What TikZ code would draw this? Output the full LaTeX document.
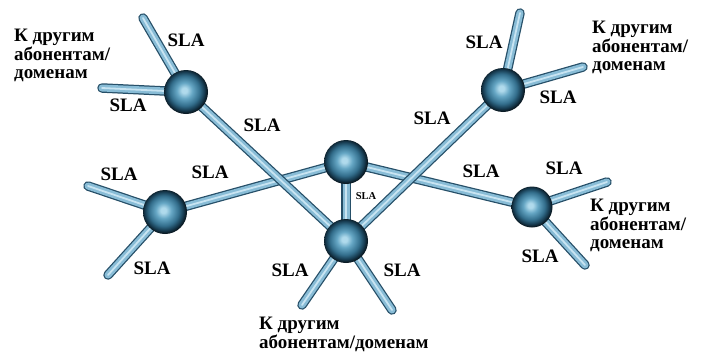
\documentclass[tikz,border=0pt]{standalone}
\usepackage{fontspec}
\setmainfont{Liberation Serif}[BoldFont={Liberation Serif Bold}]
\newfontfamily\labfont{Liberation Serif Bold}
\pgfdeclarelayer{bg}
\pgfsetlayers{bg,main}
\definecolor{pipefill}{HTML}{88BCD6}
\definecolor{pipedark}{HTML}{264F68}
\definecolor{pipelight}{HTML}{C8E4F2}
\definecolor{sphhi}{HTML}{B0DAEC}
\definecolor{sphmid}{HTML}{65A6C4}
\definecolor{sphmd}{HTML}{336E8C}
\definecolor{sphdk}{HTML}{163A4F}
\definecolor{sphedge}{HTML}{0A1922}
\pgfdeclareradialshading{sph}{\pgfpoint{-2bp}{2bp}}{color(0bp)=(sphhi); color(3bp)=(sphhi); color(9bp)=(sphmid); color(17bp)=(sphmd); color(22bp)=(sphdk); color(25bp)=(sphedge); color(50bp)=(sphedge)}
\begin{document}
\begin{tikzpicture}[x=1pt,y=-1pt,
  sphere/.style={circle, minimum size=44pt, inner sep=0pt, shading=sph},
  pipe/.style={line width=7pt, draw=pipefill, line cap=round,
    preaction={draw=pipedark, line width=9.5pt, line cap=round},
    postaction={draw=pipelight, line width=1.8pt, line cap=round}},
  lbl/.style={font=\labfont\fontsize{19}{18.5}\selectfont, inner sep=0pt},
  small/.style={font=\labfont\fontsize{10.5}{12}\selectfont, inner sep=0pt},
  blk/.style={lbl, align=left, anchor=north west}]
\useasboundingbox (0,0) rectangle (701,351);
% spheres
\node[sphere] (tl) at (186,92) {};
\node[sphere] (tr) at (503,90) {};
\node[sphere] (ct) at (346,162) {};
\node[sphere] (lf) at (165,212) {};
\node[sphere] (cb) at (346,241) {};
\node[sphere, minimum size=41pt] (rt) at (532,207) {};
% stub ends
\coordinate (tlU) at (143,18);
\coordinate (tlL) at (102,88);
\coordinate (trU) at (520,13);
\coordinate (trR) at (583,67);
\coordinate (lfL) at (88,186);
\coordinate (lfD) at (108,275);
\coordinate (cbL) at (302,305);
\coordinate (cbR) at (392,310);
\coordinate (rtU) at (607,182);
\coordinate (rtD) at (585,265);
\begin{pgfonlayer}{bg}
  \draw[pipe] (lf.center) -- (ct.center);
  \draw[pipe] (ct.center) -- (rt.center);
  \draw[pipe] (ct.center) -- (cb.center);
  \draw[pipe] (tl.center) -- (cb.center);
  \draw[pipe] (tr.center) -- (cb.center);
  \draw[pipe] (tl.center) -- (tlU);
  \draw[pipe] (tl.center) -- (tlL);
  \draw[pipe] (tr.center) -- (trU);
  \draw[pipe] (tr.center) -- (trR);
  \draw[pipe] (lf.center) -- (lfL);
  \draw[pipe] (lf.center) -- (lfD);
  \draw[pipe] (cb.center) -- (cbL);
  \draw[pipe] (cb.center) -- (cbR);
  \draw[pipe] (rt.center) -- (rtU);
  \draw[pipe] (rt.center) -- (rtD);
\end{pgfonlayer}
% SLA labels
\node[lbl] (s1) at (186,40) {SLA};
\node[lbl] (s2) at (128,105) {SLA};
\node[lbl] (s3) at (262,125) {SLA};
\node[lbl] (s4) at (484,42) {SLA};
\node[lbl] (s5) at (558,97) {SLA};
\node[lbl] (s6) at (432,118) {SLA};
\node[lbl] (s7) at (119,174) {SLA};
\node[lbl] (s8) at (210,172) {SLA};
\node[lbl] (s9) at (152,268) {SLA};
\node[lbl] (s10) at (290,270) {SLA};
\node[lbl] (s11) at (402,270) {SLA};
\node[lbl] (s12) at (481,171) {SLA};
\node[lbl] (s13) at (564,168) {SLA};
\node[lbl] (s14) at (540,256) {SLA};
\node[small] (s15) at (366,196) {SLA};
% text blocks
\node[blk] (b1) at (14,29) {К другим\\абонентам/\\доменам};
\node[blk] (b2) at (592,21) {К другим\\абонентам/\\доменам};
\node[blk] (b3) at (590,199) {К другим\\абонентам/\\доменам};
\node[blk] (b4) at (259,317) {К другим\\абонентам/доменам};
\end{tikzpicture}
\end{document}
